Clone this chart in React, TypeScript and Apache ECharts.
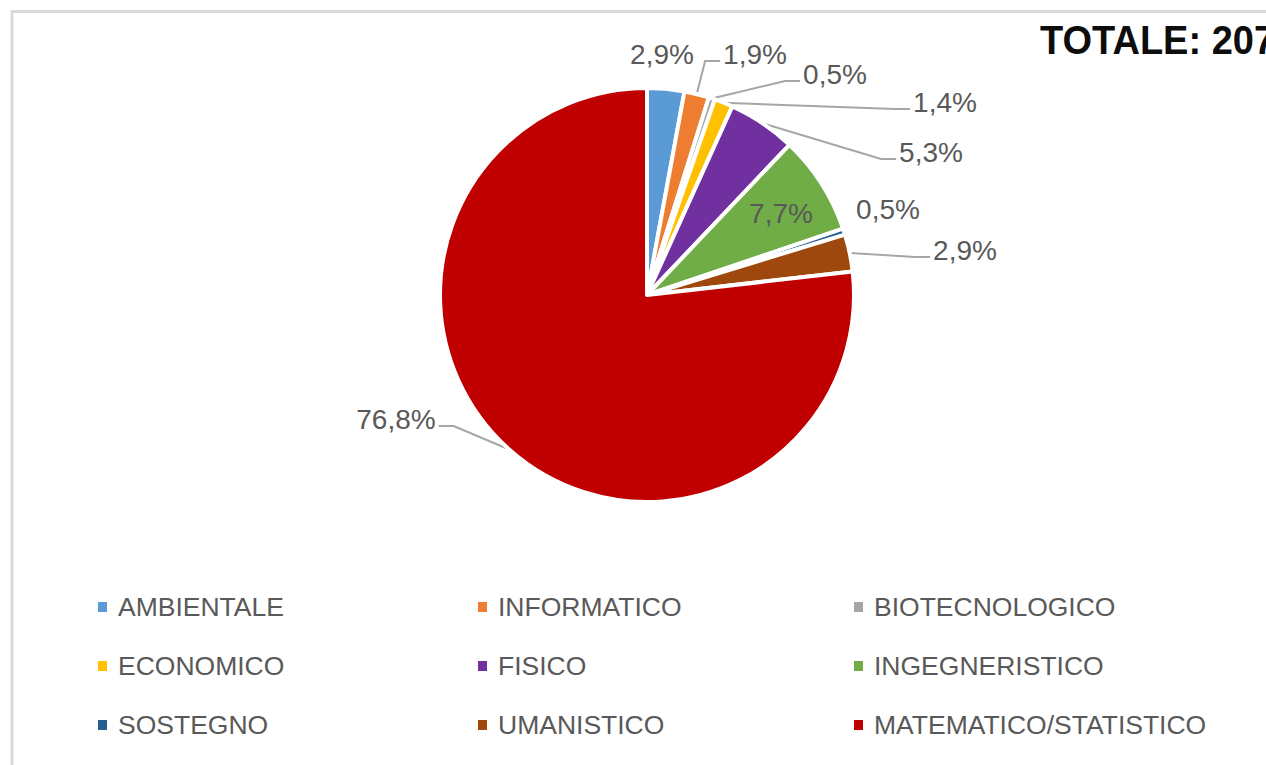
import React, { useEffect, useRef } from 'react';
import * as echarts from 'echarts';

// ---- data ----
const CATEGORIES = [
  'AMBIENTALE',
  'INFORMATICO',
  'BIOTECNOLOGICO',
  'ECONOMICO',
  'FISICO',
  'INGEGNERISTICO',
  'SOSTEGNO',
  'UMANISTICO',
  'MATEMATICO/STATISTICO',
];
const COUNTS = [6, 4, 1, 3, 11, 16, 1, 6, 159];
const TOTAL_LABEL = 'TOTALE: 207';
const LEGEND_COLUMNS = [
  ['AMBIENTALE', 'ECONOMICO', 'SOSTEGNO'],
  ['INFORMATICO', 'FISICO', 'UMANISTICO'],
  ['BIOTECNOLOGICO', 'INGEGNERISTICO', 'MATEMATICO/STATISTICO'],
];

// ---- style / layout ----
const COLORS = ['#5B9BD5', '#ED7D31', '#A5A5A5', '#FFC000', '#7030A0', '#70AD47', '#255E91', '#9E480E', '#C00000'];
const PIE_CENTER = [647, 295];
const PIE_RADIUS = 207;
// label text centres (Excel-like manual placement), null = default
const LABEL_POS: (number[] | null)[] = [
  [662, 54], [755, 54], [835, 74], [945, 102], [931, 152], [781, 213], [888, 209], [965, 250], [396, 419],
];
const LABEL_HAS_LINE = [false, true, true, true, true, false, false, true, true];
const LEGEND_LEFT = [91, 471, 847];
const FONT = "'Liberation Sans', Arial, sans-serif";

export default function App() {
  const ref = useRef<HTMLDivElement>(null);

  useEffect(() => {
    if (!ref.current) return;
    const chart = echarts.init(ref.current, undefined, { renderer: 'svg' });
    const total = COUNTS.reduce((a, b) => a + b, 0);

    const data = CATEGORIES.map((name, i) => ({
      name,
      value: COUNTS[i],
      itemStyle: { color: COLORS[i] },
      label: i === 5 ? { position: 'inside' } : undefined,
      labelLine: { show: LABEL_HAS_LINE[i] },
    }));

    const option: any = {
      animation: false,
      backgroundColor: '#ffffff',
      graphic: [
        {
          type: 'rect',
          z: 0,
          shape: { x: 12, y: 11.5, width: 1400, height: 900 },
          style: { fill: 'none', stroke: '#d9d9d9', lineWidth: 3 },
          silent: true,
        },
        {
          type: 'text',
          x: 1040,
          y: 20,
          scaleX: 0.95,
          style: {
            text: TOTAL_LABEL,
            fontSize: 40,
            fontWeight: 'bold',
            fontFamily: FONT,
            fill: '#0d0d0d',
            verticalAlign: 'top',
            align: 'left',
          },
        },
      ],
      legend: LEGEND_COLUMNS.map((col, i) => ({
        orient: 'vertical',
        left: LEGEND_LEFT[i],
        top: 587,
        data: col,
        icon: 'rect',
        itemWidth: 11,
        itemHeight: 12,
        itemGap: 29,
        selectedMode: false,
        textStyle: {
          fontSize: 26.5,
          color: '#595959',
          fontFamily: FONT,
          lineHeight: 30,
          padding: [0, 0, 0, 5],
        },
      })),
      series: [
        {
          type: 'pie',
          center: PIE_CENTER,
          radius: PIE_RADIUS,
          startAngle: 90,
          clockwise: true,
          avoidLabelOverlap: false,
          emphasis: { disabled: true },
          itemStyle: { borderColor: '#ffffff', borderWidth: 4 },
          label: {
            show: true,
            position: 'outside',
            fontSize: 28,
            color: '#595959',
            fontFamily: FONT,
            formatter: (p: any) => ((p.value / total) * 100).toFixed(1).replace('.', ',') + '%',
          },
          labelLine: {
            show: true,
            length: 15,
            length2: 15,
            lineStyle: { color: '#a6a6a6', width: 2 },
          },
          labelLayout: (p: any) => {
            const pos = LABEL_POS[p.dataIndex];
            if (!pos) return {};
            const [x, y] = pos;
            const res: any = { x, y, align: 'center', verticalAlign: 'middle' };
            const pts = p.labelLinePoints;
            if (pts && LABEL_HAS_LINE[p.dataIndex]) {
              const w = p.labelRect.width;
              const side = x > PIE_CENTER[0] ? 1 : -1;
              const endX = x - side * (w / 2 + 3);
              const ly = y + 7;
              res.labelLinePoints = [pts[0], [endX - side * 15, ly], [endX, ly]];
            }
            return res;
          },
          data,
        },
      ],
    };

    chart.setOption(option);
    return () => chart.dispose();
  }, []);

  return (
    <div
      ref={ref}
      style={{ position: 'fixed', left: 0, top: 0, width: 1266, height: 765, background: '#fff' }}
    />
  );
}
